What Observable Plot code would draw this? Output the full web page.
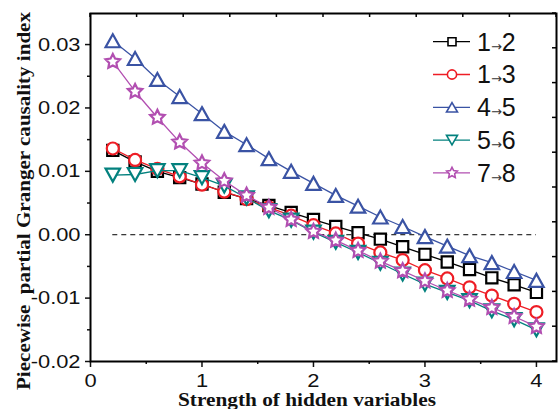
<!DOCTYPE html>
<html><head><meta charset="utf-8">
<script src="https://cdn.jsdelivr.net/npm/d3@7"></script>
<script src="https://cdn.jsdelivr.net/npm/@observablehq/plot@0.6"></script>
<style>body{margin:0;background:#fff;} #chart{position:relative;width:560px;height:409px;}</style>
</head><body><div id="chart"></div>
<script>
// ---- data ----
const xs = [0.2,0.4,0.6,0.8,1.0,1.2,1.4,1.6,1.8,2.0,2.2,2.4,2.6,2.8,3.0,3.2,3.4,3.6,3.8,4.0];
const s12 = [0.0133,0.0115,0.0100,0.0090,0.0080,0.0067,0.0057,0.0046,0.0035,0.0024,0.0013,0.0003,-0.0007,-0.0019,-0.0031,-0.0043,-0.0055,-0.0068,-0.0079,-0.0091];
const s13 = [0.0136,0.0118,0.0104,0.0092,0.0079,0.0068,0.0056,0.0043,0.0030,0.0015,0.0002,-0.0014,-0.0028,-0.0040,-0.0056,-0.0069,-0.0083,-0.0096,-0.0109,-0.0122];
const s45 = [0.0306,0.0278,0.0245,0.0218,0.0191,0.0163,0.0142,0.0120,0.0100,0.0081,0.0062,0.0045,0.0028,0.0013,-0.0003,-0.0018,-0.0033,-0.0044,-0.0058,-0.0072];
const s56 = [0.0094,0.0095,0.0101,0.0101,0.0090,0.0077,0.0058,0.0038,0.0023,0.0004,-0.0012,-0.0028,-0.0045,-0.0062,-0.0078,-0.0091,-0.0104,-0.0120,-0.0134,-0.0150];
const s78 = [0.0273,0.0226,0.0185,0.0146,0.0113,0.0085,0.0062,0.0043,0.0024,0.0005,-0.0009,-0.0025,-0.0042,-0.0057,-0.0073,-0.0088,-0.0102,-0.0115,-0.0129,-0.0145];
const seriesNames = [["1","2"],["1","3"],["4","5"],["5","6"],["7","8"]];
const seriesValues = [s12, s13, s45, s56, s78];
const xTicks = [0,1,2,3,4];
const xMinorTicks = [0.5,1.5,2.5,3.5];
const yTicks = [-0.02,-0.01,0,0.01,0.02,0.03];
const yMinorTicks = [-0.015,-0.005,0.005,0.015,0.025];
const xTitle = "Strength of hidden variables";
const yTitle = "Piecewise  partial Granger causality index";

// ---- styles ----
const colors = ["#000000","#ee1d25","#3a53a4","#03817e","#b24fb1"];
function sq(h){return {draw(c){c.moveTo(-h,-h);c.lineTo(h,-h);c.lineTo(h,h);c.lineTo(-h,h);c.closePath();}};}
function circ(r){return {draw(c){c.moveTo(r,0);c.arc(0,0,r,0,2*Math.PI);c.closePath();}};}
function tri(w,h,down){const s=down?-1:1;return {draw(c){c.moveTo(0,-s*h/2);c.lineTo(w/2,s*h/2);c.lineTo(-w/2,s*h/2);c.closePath();}};}
function star(R,r){return {draw(c){for(let i=0;i<10;i++){const a=-Math.PI/2+i*Math.PI/5;const rr=i%2?r:R;const px=rr*Math.cos(a),py=rr*Math.sin(a);if(i===0)c.moveTo(px,py);else c.lineTo(px,py);}c.closePath();}};}
const bigSym = [sq(5.6), circ(6.0), tri(14.5,13,false), tri(14.5,13,true), star(7.6,3.8)];
const smallSym = [sq(4), circ(4.6), tri(11,9.5,false), tri(11,9.5,true), star(5.6,2.8)];

const W=560,H=409,mL=90,mR=4,mT=13,mB=48;
const xDomain=[0,4.18], yDomain=[-0.02,0.0349];

const marks = [];
marks.push(Plot.ruleY([0],{x1:xs[0],x2:xs[xs.length-1],stroke:"#000",strokeWidth:1,strokeDasharray:"5,4"}));
seriesValues.forEach((vals,k)=>{
  const rows = xs.map((x,i)=>({x, y:vals[i]}));
  marks.push(Plot.line(rows,{x:"x",y:"y",stroke:colors[k],strokeWidth:1.3}));
  marks.push(Plot.dot(rows,{x:"x",y:"y",symbol:bigSym[k],r:6,stroke:colors[k],fill:"white",strokeWidth:2.2}));
});
marks.push(Plot.axisX({ticks:xTicks,tickSize:6,tickPadding:6,tickFormat:d=>String(d),label:null,strokeWidth:1.5,fontSize:19}));
marks.push(Plot.axisX({ticks:xMinorTicks,tickSize:3,tickFormat:()=>"",label:null,strokeWidth:1.5}));
marks.push(Plot.axisY({ticks:yTicks,tickSize:5,tickPadding:5,tickFormat:d=>d.toFixed(2),label:null,strokeWidth:1.5,fontSize:19}));
marks.push(Plot.axisY({ticks:yMinorTicks,tickSize:3,tickFormat:()=>"",label:null,strokeWidth:1.5}));
marks.push(Plot.frame({stroke:"#000",strokeWidth:2}));

const plot = Plot.plot({
  width:W,height:H,marginLeft:mL,marginRight:mR,marginTop:mT,marginBottom:mB,
  x:{domain:xDomain},y:{domain:yDomain},
  style:{fontFamily:"Liberation Sans",fontSize:"19px",color:"#111",background:"white",overflow:"visible"},
  marks
});
document.getElementById("chart").appendChild(plot);
const svg = d3.select(plot);

// stretch tick labels horizontally (reference glyphs are wide)
svg.selectAll("g[aria-label$='axis tick label'] text").each(function(){
  const t=this.textContent; if(!t) return;
  const L=this.getComputedTextLength();
  this.setAttribute("textLength",(L*1.15).toFixed(1));
  this.setAttribute("lengthAdjust","spacingAndGlyphs");
});

// top & right inward ticks (10 equal divisions of the frame)
const sx = plot.scale("x"), sy = plot.scale("y");
const xr = sx.range, yr = sy.range;
const g = svg.append("g").attr("stroke","#000").attr("stroke-width",1.5);
for(let i=0;i<=10;i++){
  const px = xr[0]+(xr[1]-xr[0])*i/10;
  g.append("line").attr("x1",px).attr("x2",px).attr("y1",yr[1]).attr("y2",yr[1]+4);
  const py = yr[0]+(yr[1]-yr[0])*i/10;
  g.append("line").attr("x1",xr[1]).attr("x2",xr[1]-4).attr("y1",py).attr("y2",py);
}

// axis titles
svg.append("text").attr("x",307).attr("y",406).attr("text-anchor","middle")
  .attr("font-family","Liberation Serif").attr("font-weight","bold").attr("font-size",18.2)
  .attr("fill","#111").attr("textLength",258).attr("lengthAdjust","spacingAndGlyphs").text(xTitle);
svg.append("text").attr("transform","translate(29.5,201) rotate(-90)").attr("text-anchor","middle")
  .attr("font-family","Liberation Serif").attr("font-weight","bold").attr("font-size",19.5)
  .attr("fill","#111").attr("textLength",378).attr("lengthAdjust","spacingAndGlyphs")
  .style("white-space","pre").text(yTitle);

// legend
const lg = svg.append("g");
seriesNames.forEach((nm,k)=>{
  const cy = 41.7 + 32.8*k;
  lg.append("line").attr("x1",433).attr("x2",470).attr("y1",cy).attr("y2",cy).attr("stroke",colors[k]).attr("stroke-width",1.3);
  lg.append("path").attr("transform",`translate(452,${cy})`).attr("d",(()=>{const p=d3.path();smallSym[k].draw(p);return p.toString();})())
    .attr("fill","white").attr("stroke",colors[k]).attr("stroke-width",1.6);
  const t = lg.append("text").attr("x",477).attr("y",cy+8.8).attr("text-anchor","start")
    .attr("font-family","Liberation Sans").attr("font-size",25).attr("fill","#111");
  t.append("tspan").text(nm[0]);
  t.append("tspan").attr("font-family","DejaVu Sans").attr("font-size",13).attr("fill","#333").text("\u2192");
  t.append("tspan").text(nm[1]);
});
</script></body></html>
